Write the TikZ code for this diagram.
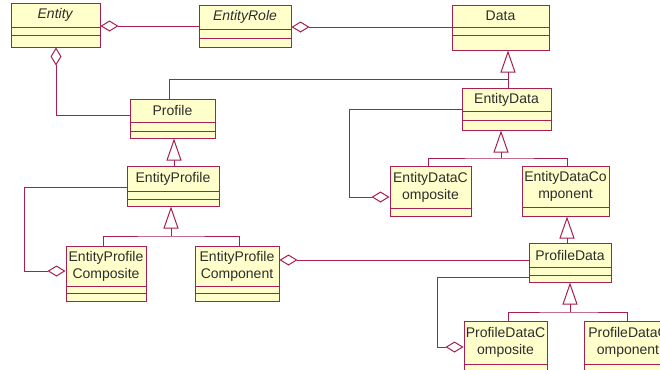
\documentclass[tikz,border=0pt]{standalone}
\usepackage{fontspec}
\setmainfont{Liberation Sans}
\usetikzlibrary{arrows.meta,fit}
\definecolor{umlline}{RGB}{168,32,82}
\definecolor{umlfill}{RGB}{255,255,204}
\definecolor{umltext}{RGB}{45,45,45}
\tikzset{
  cls/.style={draw=umlline,fill=umlfill,line width=0.75pt,inner sep=0pt,rectangle},
  sepline/.style={draw=umlline,line width=0.75pt},
  lbl/.style={align=center,inner sep=0pt,text=umltext,font=\fontsize{10.5}{12.75}\selectfont},
  conn/.style={draw=umlline,line width=0.75pt},
  gen/.style={conn,-{Triangle[open,length=16.5pt,width=11.25pt]}},
  agg/.style={conn,{Diamond[open,length=13.5pt,width=8.25pt]}-},
}
\newcommand\umlbox[8]{%
  \node[cls,fit={(#2,#3)(#4,#5)}] (#1) {};
  \draw[sepline] (#2,#6) -- (#4,#6);
  \draw[sepline] (#2,#7) -- (#4,#7);
  \node[lbl] (#1-t) at ({(#2+#4)/2},{(#3+#6)/2}) {#8};
}
\begin{document}
\begin{tikzpicture}[x=0.75pt,y=-0.75pt]
\useasboundingbox (0,0) rectangle (660,369);
\clip (0,0) rectangle (660,369);
\fill[white] (0,0) rectangle (660,369);
% classes
\umlbox{entity}{11}{3}{100}{47}{27}{35}{\textit{Entity}}
\umlbox{entityrole}{199}{5}{291}{47}{29}{38}{\textit{EntityRole}}
\umlbox{data}{452}{5}{549}{50}{27}{35}{Data}
\umlbox{entitydata}{462}{88}{551}{130}{111}{120}{EntityData}
\umlbox{profile}{130}{99}{215}{138}{122}{131}{Profile}
\umlbox{entityprofile}{127}{166}{219}{206}{191}{199}{EntityProfile}
\umlbox{epcomposite}{66}{246}{146}{301}{286}{293}{EntityProfile\\Composite}
\umlbox{epcomponent}{195}{246}{279}{301}{286}{293}{EntityProfile\\Component}
\umlbox{edcomposite}{390}{166}{471}{216}{208}{208}{EntityDataC\\omposite}
\umlbox{edcomponent}{522}{166}{609}{216}{207}{207}{EntityDataCo\\mponent}
\umlbox{profiledata}{529}{243}{611}{282}{267}{275}{ProfileData}
\umlbox{pdcomposite}{464}{321}{547}{380}{364}{372}{ProfileDataC\\omposite}
\umlbox{pdcomponent}{584}{321}{672}{380}{364}{372}{ProfileDataC\\omponent}
% junction points
\coordinate (jdata) at (508,79);
\coordinate (jep) at (171,236);
\coordinate (jed) at (501,158);
\coordinate (jpd) at (570,312);
% aggregations
\draw[agg] (entity.east |- 0,26) -- (entityrole.west |- 0,26);
\draw[agg] (entityrole.east |- 0,27) -- (data.west |- 0,27);
\draw[agg] (entity.south -| 56,0) |- (profile.west |- 0,115);
\draw[agg] (epcomposite.west |- 0,271) -| (24,187) -- (entityprofile.west |- 0,187);
\draw[agg] (epcomponent.east |- 0,260) -- (profiledata.west |- 0,260);
\draw[agg] (edcomposite.west |- 0,197) -| (349,109) -- (entitydata.west |- 0,109);
\draw[agg] (pdcomposite.west |- 0,347) -| (437,277) -- (profiledata.west |- 0,277);
% generalizations
\draw[gen] (entitydata.north -| jdata) -- (data.south -| jdata);
\draw[conn] (profile.north -| 169,0) |- (jdata);
\draw[gen] (entityprofile.north -| 174,0) -- (profile.south -| 174,0);
\draw[gen] (jep) -- (entityprofile.south -| jep);
\draw[conn] (epcomposite.north -| 103,0) |- (jep) -| (epcomponent.north -| 239,0);
\draw[gen] (jed) -- (entitydata.south -| jed);
\draw[conn] (edcomposite.north -| 428,0) |- (jed) -| (edcomponent.north -| 567,0);
\draw[gen] (profiledata.north -| 567,0) -- (edcomponent.south -| 567,0);
\draw[gen] (jpd) -- (profiledata.south -| jpd);
\draw[conn] (pdcomposite.north -| 508,0) |- (jpd) -| (pdcomponent.north -| 627,0);
\end{tikzpicture}
\end{document}
